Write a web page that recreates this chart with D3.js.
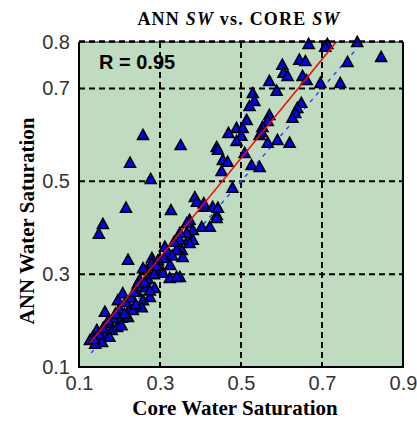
<!DOCTYPE html>
<html>
<head>
<meta charset="utf-8">
<script src="https://cdn.jsdelivr.net/npm/d3@7"></script>
<style>
  body { margin: 0; background: #fff; }
</style>
</head>
<body>
<div id="chart"></div>
<script>
// core water saturation (x) and ANN predicted water saturation (y)
var coreSw = [0.667, 0.713, 0.708, 0.787, 0.644, 0.659, 0.602, 0.605, 0.615, 0.570,
              0.652, 0.662, 0.588, 0.696, 0.745, 0.763, 0.846, 0.529, 0.533, 0.521,
              0.649, 0.639, 0.634, 0.627, 0.570, 0.566, 0.553, 0.514, 0.489, 0.504,
              0.501, 0.489, 0.546, 0.566, 0.590, 0.620, 0.509, 0.551, 0.469, 0.440,
              0.443, 0.455, 0.467, 0.452, 0.526, 0.546, 0.479, 0.410, 0.430, 0.440,
              0.386, 0.391, 0.408, 0.443, 0.440, 0.373, 0.366, 0.403, 0.423, 0.381,
              0.373, 0.366, 0.381, 0.349, 0.354, 0.356, 0.349, 0.258, 0.351, 0.226,
              0.277, 0.216, 0.327, 0.159, 0.149, 0.221, 0.280, 0.144, 0.134, 0.127,
              0.157, 0.164, 0.181, 0.194, 0.164, 0.206, 0.196, 0.208, 0.226, 0.233,
              0.221, 0.243, 0.258, 0.250, 0.263, 0.275, 0.267, 0.280, 0.300, 0.300,
              0.312, 0.319, 0.341, 0.349, 0.373, 0.287, 0.324, 0.341, 0.307, 0.258,
              0.255, 0.150, 0.140, 0.170, 0.185, 0.175, 0.200, 0.215, 0.230, 0.240,
              0.245, 0.270, 0.285, 0.295, 0.310, 0.330, 0.335, 0.325, 0.190, 0.160,
              0.205, 0.275, 0.138, 0.172, 0.212, 0.236, 0.262, 0.292];
var annSw  = [0.796, 0.796, 0.790, 0.800, 0.762, 0.759, 0.751, 0.734, 0.727, 0.716,
              0.727, 0.718, 0.695, 0.712, 0.712, 0.757, 0.768, 0.690, 0.673, 0.662,
              0.669, 0.658, 0.647, 0.637, 0.643, 0.630, 0.617, 0.632, 0.615, 0.615,
              0.598, 0.587, 0.600, 0.583, 0.589, 0.583, 0.561, 0.606, 0.604, 0.574,
              0.568, 0.546, 0.542, 0.522, 0.535, 0.531, 0.486, 0.445, 0.445, 0.428,
              0.466, 0.456, 0.453, 0.443, 0.421, 0.417, 0.410, 0.402, 0.402, 0.395,
              0.380, 0.389, 0.374, 0.374, 0.352, 0.337, 0.294, 0.600, 0.578, 0.540,
              0.505, 0.443, 0.438, 0.408, 0.387, 0.331, 0.335, 0.180, 0.165, 0.158,
              0.154, 0.173, 0.180, 0.186, 0.219, 0.206, 0.244, 0.259, 0.227, 0.223,
              0.208, 0.262, 0.244, 0.288, 0.272, 0.251, 0.309, 0.324, 0.316, 0.303,
              0.359, 0.348, 0.352, 0.389, 0.367, 0.270, 0.292, 0.294, 0.303, 0.313,
              0.229, 0.170, 0.150, 0.195, 0.205, 0.165, 0.225, 0.240, 0.250, 0.235,
              0.280, 0.290, 0.300, 0.330, 0.335, 0.340, 0.370, 0.320, 0.215, 0.185,
              0.190, 0.265, 0.160, 0.200, 0.215, 0.262, 0.282, 0.318];

// regression line (red) and 1:1 line (blue dashed)
var fitX = [0.127, 0.735], fitY = [0.152, 0.800];
var unitX = [0.13, 0.785], unitY = [0.13, 0.785];

var xTicks = [0.1, 0.3, 0.5, 0.7, 0.9];
var yTicks = [0.1, 0.3, 0.5, 0.7, 0.8];
var xGrid = [0.3, 0.5, 0.7];
var yGrid = [0.3, 0.5, 0.7];

var W = 417, H = 421;
var pLeft = 79, pTop = 42, pRight = 403, pBottom = 367;

var svg = d3.select("#chart").append("svg")
    .attr("width", W)
    .attr("height", H);

var x = d3.scaleLinear().domain([0.1, 0.9]).range([pLeft, pRight]);
var y = d3.scaleLinear().domain([0.1, 0.8]).range([pBottom, pTop]);

// plot background
svg.append("rect")
    .attr("x", pLeft).attr("y", pTop)
    .attr("width", pRight - pLeft).attr("height", pBottom - pTop)
    .attr("fill", "#c0dcc0");

// dashed grid
svg.selectAll(".vgrid").data(xGrid).enter().append("line")
    .attr("x1", function(d) { return x(d); }).attr("x2", function(d) { return x(d); })
    .attr("y1", pTop).attr("y2", pBottom)
    .attr("stroke", "#000").attr("stroke-width", 2).attr("stroke-dasharray", "6,4");
svg.selectAll(".hgrid").data(yGrid).enter().append("line")
    .attr("y1", function(d) { return y(d); }).attr("y2", function(d) { return y(d); })
    .attr("x1", pLeft).attr("x2", pRight)
    .attr("stroke", "#000").attr("stroke-width", 2).attr("stroke-dasharray", "6,4");

// 1:1 line under the markers
svg.append("line")
    .attr("x1", x(unitX[0])).attr("y1", y(unitY[0]))
    .attr("x2", x(unitX[1])).attr("y2", y(unitY[1]))
    .attr("stroke", "#2a4cff").attr("stroke-width", 1.5).attr("stroke-dasharray", "4,5");

// triangles
var pts = coreSw.map(function(v, i) { return [v, annSw[i]]; });
svg.selectAll(".tri").data(pts).enter().append("path")
    .attr("class", "tri")
    .attr("d", "M0,-5.5L5.5,4.5L-5.5,4.5Z")
    .attr("transform", function(d) { return "translate(" + x(d[0]) + "," + y(d[1]) + ")"; })
    .attr("fill", "#0000ff")
    .attr("stroke", "#000")
    .attr("stroke-width", 1.6)
    .attr("stroke-linejoin", "miter");

// regression line
svg.append("line")
    .attr("x1", x(fitX[0])).attr("y1", y(fitY[0]))
    .attr("x2", x(fitX[1])).attr("y2", y(fitY[1]))
    .attr("stroke", "#ff0000").attr("stroke-width", 1.5);

// frame: solid left/bottom/right, dashed top
svg.append("path")
    .attr("d", "M" + pLeft + "," + pTop + "V" + pBottom + "H" + pRight + "V" + pTop)
    .attr("fill", "none").attr("stroke", "#000").attr("stroke-width", 2);
svg.append("line")
    .attr("x1", pLeft).attr("x2", pRight).attr("y1", pTop).attr("y2", pTop)
    .attr("stroke", "#000").attr("stroke-width", 1);
svg.append("line")
    .attr("x1", pLeft).attr("x2", pRight).attr("y1", pTop - 0.5).attr("y2", pTop - 0.5)
    .attr("stroke", "#000").attr("stroke-width", 2.5).attr("stroke-dasharray", "6,4");

// axes (labels only)
svg.append("g")
    .attr("transform", "translate(0," + pBottom + ")")
    .call(d3.axisBottom(x).tickValues(xTicks).tickSize(0).tickPadding(9).tickFormat(d3.format(".1f")));
svg.append("g")
    .attr("transform", "translate(" + pLeft + ",0)")
    .call(d3.axisLeft(y).tickValues(yTicks).tickSize(0).tickPadding(9).tickFormat(d3.format(".1f")));
svg.selectAll(".domain").remove();
svg.selectAll(".tick text")
    .style("font-family", "'Liberation Sans', Arial, sans-serif")
    .style("font-size", "20px")
    .style("fill", "#333");

// R label
svg.append("text")
    .attr("x", 99).attr("y", 69)
    .style("font-family", "'Liberation Sans', Arial, sans-serif")
    .style("font-size", "20px")
    .style("font-weight", "bold")
    .text("R = 0.95");

// title
var title = svg.append("text")
    .attr("x", 239).attr("y", 25)
    .attr("text-anchor", "middle")
    .style("font-family", "'Liberation Serif', 'Times New Roman', serif")
    .style("font-size", "18px")
    .style("font-weight", "bold")
    .style("letter-spacing", "1.2px");
title.append("tspan").text("ANN ");
title.append("tspan").style("font-style", "italic").text("SW");
title.append("tspan").text(" vs. CORE ");
title.append("tspan").style("font-style", "italic").text("SW");

// x label
svg.append("text")
    .attr("x", 235).attr("y", 415)
    .attr("text-anchor", "middle")
    .style("font-family", "'Liberation Serif', 'Times New Roman', serif")
    .style("font-size", "21px")
    .style("font-weight", "bold")
    .text("Core Water Saturation");

// y label
svg.append("text")
    .attr("transform", "translate(34,221) rotate(-90)")
    .attr("text-anchor", "middle")
    .style("font-family", "'Liberation Serif', 'Times New Roman', serif")
    .style("font-size", "21px")
    .style("font-weight", "bold")
    .text("ANN Water Saturation");
</script>
</body>
</html>
